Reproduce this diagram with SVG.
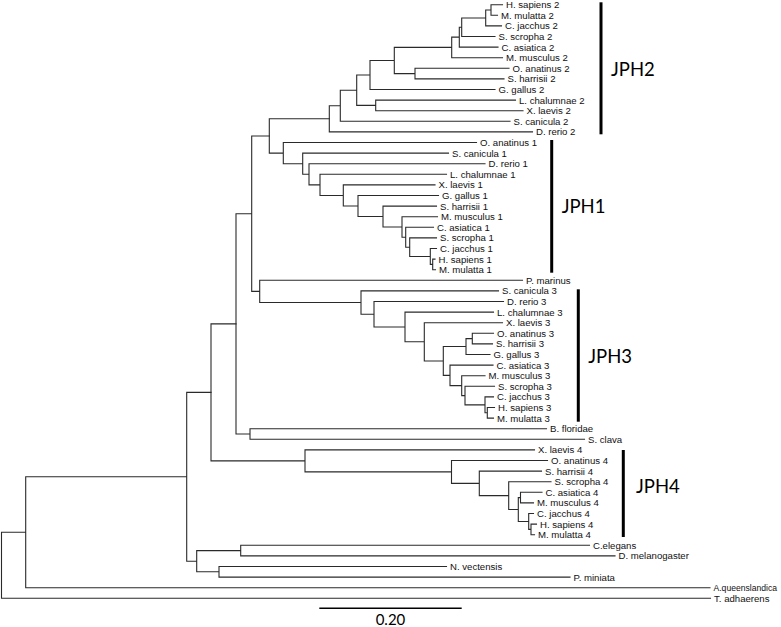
<svg xmlns="http://www.w3.org/2000/svg" width="781" height="627" viewBox="0 0 781 627">
<style>
.br{fill:none;stroke:#2a2a2a;stroke-width:1.1;stroke-linecap:square}
.lf{font-family:"Liberation Sans",Arial,sans-serif;font-size:9.6px;fill:#111}
.bar{stroke:#000;stroke-width:3}
.cl{font-family:Lato,"Open Sans",sans-serif;font-size:18.5px;fill:#000}
.sc{font-family:Lato,"Open Sans",sans-serif;font-size:15px;fill:#000}
</style>
<rect width="781" height="627" fill="#fff"/>
<g id="connectors">
<path class="br" d="M491,4.7V15.3M491,4.7H502.5M491,15.3H497.5
M485.7,10V25.9M485.7,10H491M485.7,25.9H501.5
M461.7,17.95V36.5M461.7,17.95H485.7M461.7,36.5H495
M459.3,27.2V47.1M459.3,27.2H461.7M459.3,47.1H498
M451.7,37.15V57.7M451.7,37.15H459.3M451.7,57.7H502.5
M415,68.3V78.9M415,68.3H509M415,78.9H504
M394.3,47.4V73.6M394.3,47.4H451.7M394.3,73.6H415
M370,60.5V89.5M370,60.5H394.3M370,89.5H495
M375.7,100.1V110.7M375.7,100.1H515.5M375.7,110.7H523
M356.7,75V105.4M356.7,75H370M356.7,105.4H375.7
M340.3,90.2V121.3M340.3,90.2H356.7M340.3,121.3H510
M329.3,105.75V131.9M329.3,105.75H340.3M329.3,131.9H532.5"/>
<path class="br" d="M432.7,259.1V269.7M432.7,259.1H435M432.7,269.7H435.5
M430.3,248.5V264.4M430.3,248.5H436.5M430.3,264.4H432.7
M409.7,237.9V256.45M409.7,237.9H436.5M409.7,256.45H430.3
M405.7,227.3V247.2M405.7,227.3H433.5M405.7,247.2H409.7
M402,216.7V237.25M402,216.7H437.5M402,237.25H405.7
M383,206.1V227M383,206.1H436.5M383,227H402
M358,195.5V216.55M358,195.5H438.5M358,216.55H383
M343.3,184.9V206M343.3,184.9H435M343.3,206H358
M320,174.3V195.45M320,174.3H446.5M320,195.45H343.3
M309,163.7V184.9M309,163.7H485M309,184.9H320
M302.7,153.1V174.3M302.7,153.1H448.5M302.7,174.3H309
M283.3,142.5V163.7M283.3,142.5H476.5M283.3,163.7H302.7
M269.3,118.8V153.1M269.3,118.8H329.3M269.3,153.1H283.3"/>
<path class="br" d="M487.3,407.5V418.1M487.3,407.5H494.5M487.3,418.1H493.5
M485,396.9V412.8M485,396.9H493.5M485,412.8H487.3
M465,386.3V404.85M465,386.3H494.5M465,404.85H485
M461.7,375.7V395.6M461.7,375.7H485M461.7,395.6H465
M450,365.1V385.65M450,365.1H493M450,385.65H461.7
M472.3,333.3V343.9M472.3,333.3H493.5M472.3,343.9H492.5
M466,338.6V354.5M466,338.6H472.3M466,354.5H490
M443.3,346.55V375.4M443.3,346.55H466M443.3,375.4H450
M424.3,322.7V360.95M424.3,322.7H502.5M424.3,360.95H443.3
M405,312.1V341.8M405,312.1H493.5M405,341.8H424.3
M374,301.5V326.95M374,301.5H503.5M374,326.95H405
M361,290.9V314.2M361,290.9H498.5M361,314.2H374
M259.7,280.3V302.55M259.7,280.3H522.5M259.7,302.55H361
M251.7,135.95V291.4M251.7,135.95H269.3M251.7,291.4H259.7
M250,428.7V439.3M250,428.7H546.5M250,439.3H584.5
M236,213.7V434M236,213.7H251.7M236,434H250"/>
<path class="br" d="M531,524.1V534.7M531,524.1H536.5M531,534.7H534.5
M528.7,513.5V529.4M528.7,513.5H533.5M528.7,529.4H531
M520.5,492.3V502.9M520.5,492.3H542M520.5,502.9H533.5
M518.3,497.6V521.45M518.3,497.6H520.5M518.3,521.45H528.7
M508.7,481.7V509.5M508.7,481.7H551M508.7,509.5H518.3
M479.3,471.1V495.6M479.3,471.1H541.5M479.3,495.6H508.7
M451.5,460.5V483.35M451.5,460.5H547.5M451.5,483.35H479.3
M305,449.9V471.9M305,449.9H534.5M305,471.9H451.5
M211,323.85V460.9M211,323.85H236M211,460.9H305"/>
<path class="br" d="M240.7,545.3V555.9M240.7,545.3H589.5M240.7,555.9H615
M219,566.5V577.1M219,566.5H446.5M219,577.1H570
M196.7,550.6V571.8M196.7,550.6H240.7M196.7,571.8H219
M186.7,392.4V561.2M186.7,392.4H211M186.7,561.2H196.7
M25.7,476.8V587.7M25.7,476.8H186.7M25.7,587.7H710
M1.5,532.25V598.3M1.5,532.25H25.7M1.5,598.3H710.5"/>
</g>
<g id="leaves" class="lf">
<g id="n0"><text x="506" y="8.1">H. sapiens 2</text></g>
<g id="n1"><text x="501" y="18.7">M. mulatta 2</text></g>
<g id="n2"><text x="505" y="29.3">C. jacchus 2</text></g>
<g id="n3"><text x="498.5" y="39.9">S. scropha 2</text></g>
<g id="n4"><text x="501.5" y="50.5">C. asiatica 2</text></g>
<g id="n5"><text x="506" y="61.1">M. musculus 2</text></g>
<g id="n6"><text x="512.5" y="71.7">O. anatinus 2</text></g>
<g id="n7"><text x="507.5" y="82.3">S. harrisii 2</text></g>
<g id="n8"><text x="498.5" y="92.9">G. gallus 2</text></g>
<g id="n9"><text x="519" y="103.5">L. chalumnae 2</text></g>
<g id="n10"><text x="526.5" y="114.1">X. laevis 2</text></g>
<g id="n11"><text x="513.5" y="124.7">S. canicula 2</text></g>
<g id="n12"><text x="536" y="135.3">D. rerio 2</text></g>
<g id="n13"><text x="480" y="145.9">O. anatinus 1</text></g>
<g id="n14"><text x="452" y="156.5">S. canicula 1</text></g>
<g id="n15"><text x="488.5" y="167.1">D. rerio 1</text></g>
<g id="n16"><text x="450" y="177.7">L. chalumnae 1</text></g>
<g id="n17"><text x="438.5" y="188.3">X. laevis 1</text></g>
<g id="n18"><text x="442" y="198.9">G. gallus 1</text></g>
<g id="n19"><text x="440" y="209.5">S. harrisii 1</text></g>
<g id="n20"><text x="441" y="220.1">M. musculus 1</text></g>
<g id="n21"><text x="437" y="230.7">C. asiatica 1</text></g>
<g id="n22"><text x="440" y="241.3">S. scropha 1</text></g>
<g id="n23"><text x="440" y="251.9">C. jacchus 1</text></g>
<g id="n24"><text x="438.5" y="262.5">H. sapiens 1</text></g>
<g id="n25"><text x="439" y="273.1">M. mulatta 1</text></g>
<g id="n26"><text x="526" y="283.7">P. marinus</text></g>
<g id="n27"><text x="502" y="294.3">S. canicula 3</text></g>
<g id="n28"><text x="507" y="304.9">D. rerio 3</text></g>
<g id="n29"><text x="497" y="315.5">L. chalumnae 3</text></g>
<g id="n30"><text x="506" y="326.1">X. laevis 3</text></g>
<g id="n31"><text x="497" y="336.7">O. anatinus 3</text></g>
<g id="n32"><text x="496" y="347.3">S. harrisii 3</text></g>
<g id="n33"><text x="493.5" y="357.9">G. gallus 3</text></g>
<g id="n34"><text x="496.5" y="368.5">C. asiatica 3</text></g>
<g id="n35"><text x="488.5" y="379.1">M. musculus 3</text></g>
<g id="n36"><text x="498" y="389.7">S. scropha 3</text></g>
<g id="n37"><text x="497" y="400.3">C. jacchus 3</text></g>
<g id="n38"><text x="498" y="410.9">H. sapiens 3</text></g>
<g id="n39"><text x="497" y="421.5">M. mulatta 3</text></g>
<g id="n40"><text x="550" y="432.1">B. floridae</text></g>
<g id="n41"><text x="588" y="442.7">S. clava</text></g>
<g id="n42"><text x="538" y="453.3">X. laevis 4</text></g>
<g id="n43"><text x="551" y="463.9">O. anatinus 4</text></g>
<g id="n44"><text x="545" y="474.5">S. harrisii 4</text></g>
<g id="n45"><text x="554.5" y="485.1">S. scropha 4</text></g>
<g id="n46"><text x="545.5" y="495.7">C. asiatica 4</text></g>
<g id="n47"><text x="537" y="506.3">M. musculus 4</text></g>
<g id="n48"><text x="537" y="516.9">C. jacchus 4</text></g>
<g id="n49"><text x="540" y="527.5">H. sapiens 4</text></g>
<g id="n50"><text x="538" y="538.1">M. mulatta 4</text></g>
<g id="n51"><text x="593" y="548.7">C.elegans</text></g>
<g id="n52"><text x="618.5" y="559.3">D. melanogaster</text></g>
<g id="n53"><text x="450" y="569.9">N. vectensis</text></g>
<g id="n54"><text x="573.5" y="580.5">P. miniata</text></g>
<g id="n55"><text x="713.5" y="591" style="font-size:8.6px">A.queenslandica</text></g>
<g id="n56"><text x="714" y="601.7">T. adhaerens</text></g>
</g>
<g id="clade-JPH2"><line class="bar" x1="601" y1="2.3" x2="601" y2="134.3"/><text class="cl" x="611" y="76">JPH2</text></g>
<g id="clade-JPH1"><line class="bar" x1="551.7" y1="140" x2="551.7" y2="272.7"/><text class="cl" x="561.7" y="213.3">JPH1</text></g>
<g id="clade-JPH3"><line class="bar" x1="578.3" y1="289.3" x2="578.3" y2="421.7"/><text class="cl" x="588.3" y="362.7">JPH3</text></g>
<g id="clade-JPH4"><line class="bar" x1="623.3" y1="450" x2="623.3" y2="537"/><text class="cl" x="636" y="493">JPH4</text></g>
<g id="scale"><line x1="319.3" y1="608.3" x2="461.7" y2="608.3" stroke="#000" stroke-width="1.4"/><text class="sc" x="390.5" y="625" text-anchor="middle">0.20</text></g>
</svg>
